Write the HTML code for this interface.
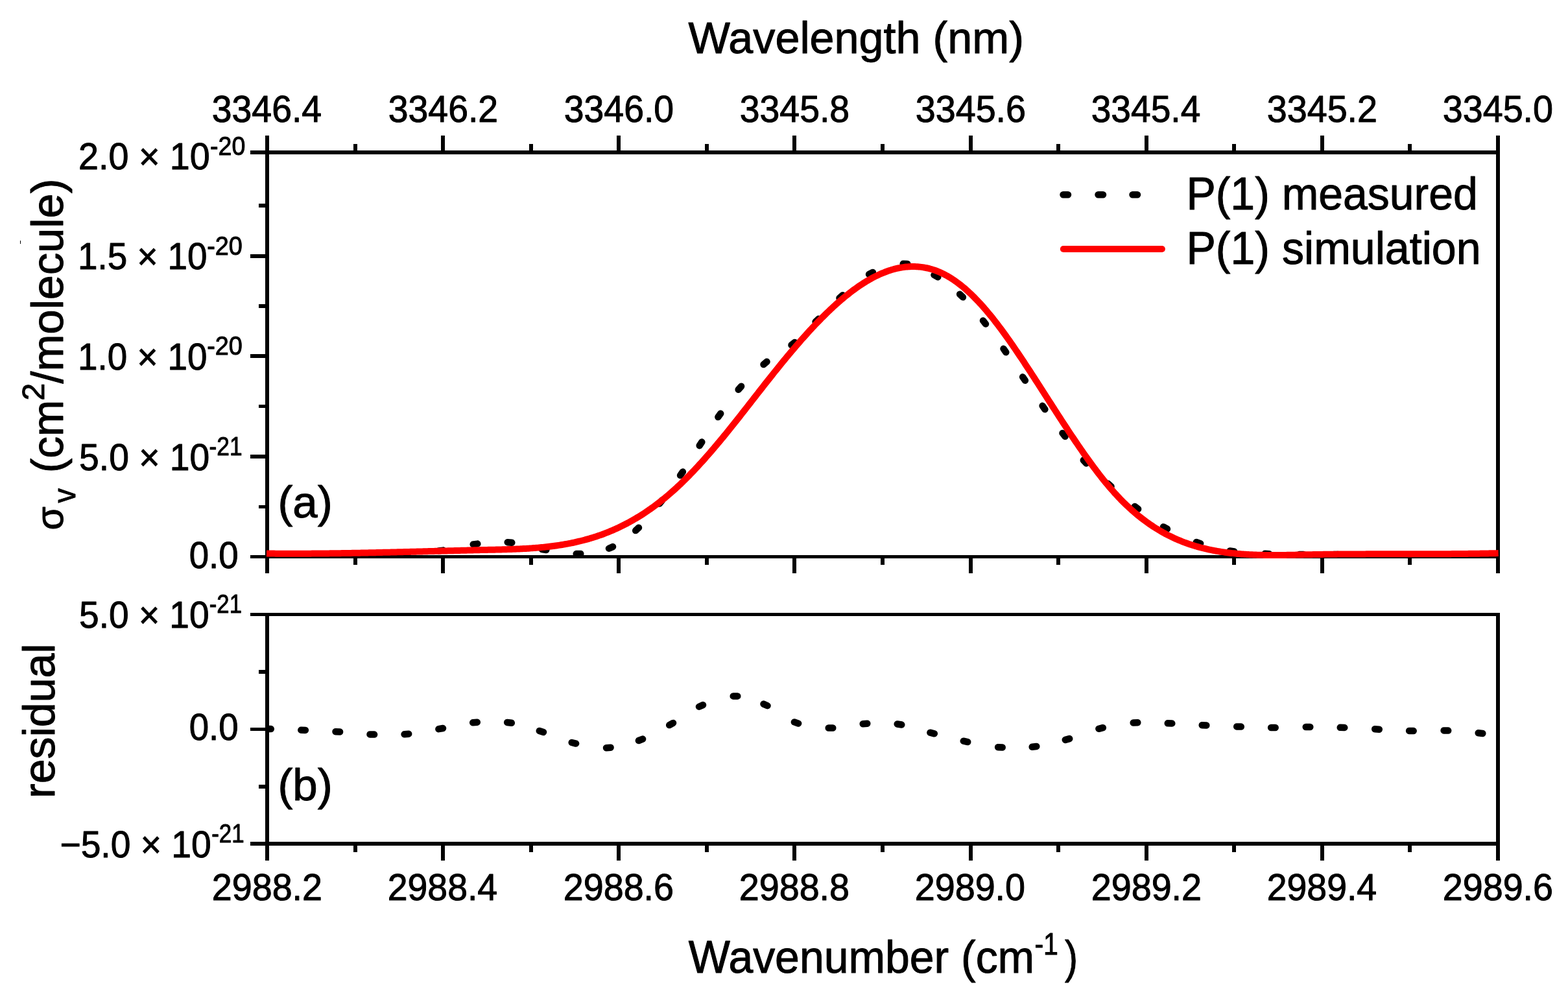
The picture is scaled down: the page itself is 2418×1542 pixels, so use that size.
<!DOCTYPE html>
<html><head><meta charset="utf-8"><title>Cross section P(1)</title>
<style>
html,body{margin:0;padding:0;background:#fff;width:2418px;height:1542px;overflow:hidden;}
svg{display:block;}
text{font-family:'Liberation Sans',Arial,Helvetica,sans-serif;}
</style></head>
<body>
<svg width="2418" height="1542" viewBox="0 0 2418 1542">
<rect width="2418" height="1542" fill="#fff"/>
<g fill="#000" shape-rendering="crispEdges">
<rect x="386.00" y="232.00" width="1927.00" height="6.00"/><rect x="386.00" y="856.00" width="1927.00" height="5.00"/><rect x="409.00" y="209.00" width="6.00" height="675.00"/><rect x="2307.00" y="209.00" width="6.00" height="675.00"/><rect x="680.14" y="209.00" width="6.00" height="23.00"/><rect x="680.14" y="861.00" width="6.00" height="23.00"/><rect x="951.29" y="209.00" width="6.00" height="23.00"/><rect x="951.29" y="861.00" width="6.00" height="23.00"/><rect x="1222.43" y="209.00" width="6.00" height="23.00"/><rect x="1222.43" y="861.00" width="6.00" height="23.00"/><rect x="1493.57" y="209.00" width="6.00" height="23.00"/><rect x="1493.57" y="861.00" width="6.00" height="23.00"/><rect x="1764.71" y="209.00" width="6.00" height="23.00"/><rect x="1764.71" y="861.00" width="6.00" height="23.00"/><rect x="2035.86" y="209.00" width="6.00" height="23.00"/><rect x="2035.86" y="861.00" width="6.00" height="23.00"/><rect x="544.57" y="222.00" width="6.00" height="10.00"/><rect x="544.57" y="861.00" width="6.00" height="10.00"/><rect x="815.71" y="222.00" width="6.00" height="10.00"/><rect x="815.71" y="861.00" width="6.00" height="10.00"/><rect x="1086.86" y="222.00" width="6.00" height="10.00"/><rect x="1086.86" y="861.00" width="6.00" height="10.00"/><rect x="1358.00" y="222.00" width="6.00" height="10.00"/><rect x="1358.00" y="861.00" width="6.00" height="10.00"/><rect x="1629.14" y="222.00" width="6.00" height="10.00"/><rect x="1629.14" y="861.00" width="6.00" height="10.00"/><rect x="1900.29" y="222.00" width="6.00" height="10.00"/><rect x="1900.29" y="861.00" width="6.00" height="10.00"/><rect x="2171.43" y="222.00" width="6.00" height="10.00"/><rect x="2171.43" y="861.00" width="6.00" height="10.00"/><rect x="386.00" y="392.00" width="23.00" height="6.00"/><rect x="386.00" y="546.00" width="23.00" height="6.00"/><rect x="386.00" y="701.00" width="23.00" height="6.00"/><rect x="399.00" y="314.25" width="10.00" height="5.50"/><rect x="399.00" y="469.25" width="10.00" height="5.50"/><rect x="399.00" y="623.75" width="10.00" height="5.50"/><rect x="399.00" y="778.65" width="10.00" height="5.50"/><rect x="386.00" y="945.00" width="1927.00" height="5.00"/><rect x="386.00" y="1298.00" width="1927.00" height="6.00"/><rect x="409.00" y="945.00" width="6.00" height="382.00"/><rect x="2307.00" y="945.00" width="6.00" height="382.00"/><rect x="680.14" y="1304.00" width="6.00" height="23.00"/><rect x="951.29" y="1304.00" width="6.00" height="23.00"/><rect x="1222.43" y="1304.00" width="6.00" height="23.00"/><rect x="1493.57" y="1304.00" width="6.00" height="23.00"/><rect x="1764.71" y="1304.00" width="6.00" height="23.00"/><rect x="2035.86" y="1304.00" width="6.00" height="23.00"/><rect x="544.57" y="1304.00" width="6.00" height="10.00"/><rect x="815.71" y="1304.00" width="6.00" height="10.00"/><rect x="1086.86" y="1304.00" width="6.00" height="10.00"/><rect x="1358.00" y="1304.00" width="6.00" height="10.00"/><rect x="1629.14" y="1304.00" width="6.00" height="10.00"/><rect x="1900.29" y="1304.00" width="6.00" height="10.00"/><rect x="2171.43" y="1304.00" width="6.00" height="10.00"/><rect x="386.00" y="1122.00" width="23.00" height="5.00"/><rect x="399.00" y="1033.25" width="10.00" height="5.50"/><rect x="399.00" y="1210.00" width="10.00" height="5.50"/>
</g>
<path d="M623.7,851.8L630.3,851.4M676.7,849.4L683.3,848.6M729.7,839.4L736.3,838.6M782.7,836.2L789.3,836.8M835.7,847.0L842.3,848.0M888.7,854.1L895.3,853.9M939.0,845.7L945.0,843.1M980.2,818.1L985.0,813.7M1016.9,776.6L1021.1,771.4M1049.1,733.0L1052.9,727.6M1078.7,687.2L1082.3,681.6M1107.4,643.1L1111.2,637.7M1138.7,600.8L1143.1,595.8M1177.5,562.0L1182.5,557.8M1220.5,532.1L1225.5,527.9M1257.6,496.3L1262.4,491.7M1294.5,459.7L1299.5,455.3M1340.1,423.0L1345.9,420.0M1392.7,406.7L1399.3,406.9M1440.5,424.0L1446.3,427.2M1480.1,453.7L1484.9,458.3M1516.0,494.4L1520.0,499.6M1547.5,537.8L1551.3,543.2M1577.1,581.3L1580.9,586.7M1607.6,625.8L1611.4,631.2M1638.5,667.9L1642.5,673.1M1670.8,709.6L1675.2,714.4M1708.5,745.8L1713.5,750.2M1749.9,781.0L1755.1,785.0M1794.1,812.4L1799.9,815.6M1844.9,835.9L1851.1,838.1M1896.7,849.5L1903.3,850.5M1950.7,853.8L1957.3,854.2M2003.7,855.0L2010.3,855.0M2056.7,855.0L2063.3,855.0M2109.7,855.5L2116.3,855.5" stroke="#000" stroke-width="10.5" stroke-linecap="round" fill="none"/>
<clipPath id="cr"><rect x="415" y="940" width="1895" height="360"/></clipPath>
<path clip-path="url(#cr)" d="M411.2,1123.9L417.8,1124.1M464.3,1125.7L470.9,1125.9M517.5,1128.2L524.1,1128.6M570.5,1132.4L577.1,1132.6M623.6,1132.3L630.2,1131.7M676.4,1124.2L683.0,1123.0M729.2,1114.3L735.8,1113.7M782.2,1114.0L788.8,1114.8M831.8,1127.0L838.0,1129.0M881.7,1145.0L888.1,1146.6M935.0,1153.2L941.6,1152.8M984.9,1142.0L991.1,1139.6M1032.2,1118.1L1038.0,1114.9M1078.0,1089.7L1084.0,1087.1M1130.7,1073.4L1137.3,1073.4M1177.5,1085.6L1183.5,1088.2M1224.9,1113.4L1231.1,1115.6M1277.7,1122.5L1284.3,1122.5M1330.7,1116.2L1337.3,1115.8M1383.7,1116.5L1390.3,1117.5M1434.4,1129.7L1440.8,1131.3M1485.8,1142.7L1492.2,1144.1M1539.1,1152.2L1545.7,1152.6M1591.7,1151.8L1598.3,1151.0M1642.8,1140.9L1649.2,1139.1M1694.4,1123.8L1700.8,1122.2M1747.7,1114.6L1754.3,1114.2M1800.7,1115.3L1807.3,1115.5M1853.7,1118.2L1860.3,1118.6M1907.2,1120.4L1913.8,1120.6M1960.1,1122.0L1966.7,1122.0M2013.7,1121.0L2020.3,1121.0M2066.7,1121.8L2073.3,1122.0M2120.2,1124.3L2126.8,1124.7M2173.1,1126.9L2179.7,1127.1M2226.6,1126.4L2233.2,1126.6M2279.7,1130.3L2286.3,1130.9" stroke="#000" stroke-width="10.5" stroke-linecap="round" fill="none"/>
<path d="M411.0,853.50 L413.0,853.52 L415.0,853.54 L417.0,853.56 L419.0,853.58 L421.0,853.60 L423.0,853.61 L425.0,853.63 L427.0,853.64 L429.0,853.65 L431.0,853.66 L433.0,853.67 L435.0,853.68 L437.0,853.69 L439.0,853.70 L441.0,853.70 L443.0,853.71 L445.0,853.71 L447.0,853.71 L449.0,853.71 L451.0,853.72 L453.0,853.72 L455.0,853.71 L457.0,853.71 L459.0,853.71 L461.0,853.71 L463.0,853.70 L465.0,853.69 L467.0,853.69 L469.0,853.68 L471.0,853.67 L473.0,853.66 L475.0,853.65 L477.0,853.64 L479.0,853.63 L481.0,853.62 L483.0,853.60 L485.0,853.59 L487.0,853.57 L489.0,853.56 L491.0,853.54 L493.0,853.52 L495.0,853.50 L497.0,853.48 L499.0,853.46 L501.0,853.44 L503.0,853.42 L505.0,853.40 L507.0,853.38 L509.0,853.35 L511.0,853.33 L513.0,853.30 L515.0,853.28 L517.0,853.25 L519.0,853.22 L521.0,853.19 L523.0,853.17 L525.0,853.14 L527.0,853.11 L529.0,853.08 L531.0,853.04 L533.0,853.01 L535.0,852.98 L537.0,852.95 L539.0,852.91 L541.0,852.88 L543.0,852.85 L545.0,852.81 L547.0,852.77 L549.0,852.74 L551.0,852.70 L553.0,852.66 L555.0,852.63 L557.0,852.59 L559.0,852.55 L561.0,852.51 L563.0,852.47 L565.0,852.43 L567.0,852.39 L569.0,852.35 L571.0,852.31 L573.0,852.26 L575.0,852.22 L577.0,852.18 L579.0,852.13 L581.0,852.09 L583.0,852.05 L585.0,852.00 L587.0,851.96 L589.0,851.91 L591.0,851.87 L593.0,851.82 L595.0,851.77 L597.0,851.73 L599.0,851.68 L601.0,851.63 L603.0,851.59 L605.0,851.54 L607.0,851.49 L609.0,851.44 L611.0,851.39 L613.0,851.34 L615.0,851.30 L617.0,851.25 L619.0,851.20 L621.0,851.15 L623.0,851.10 L625.0,851.05 L627.0,851.00 L629.0,850.95 L631.0,850.90 L633.0,850.85 L635.0,850.79 L637.0,850.74 L639.0,850.69 L641.0,850.64 L643.0,850.59 L645.0,850.54 L647.0,850.49 L649.0,850.43 L651.0,850.38 L653.0,850.33 L655.0,850.28 L657.0,850.23 L659.0,850.17 L661.0,850.12 L663.0,850.07 L665.0,850.02 L667.0,849.97 L669.0,849.91 L671.0,849.86 L673.0,849.81 L675.0,849.76 L677.0,849.71 L679.0,849.65 L681.0,849.60 L683.0,849.55 L685.0,849.50 L687.0,849.45 L689.0,849.39 L691.0,849.34 L693.0,849.29 L695.0,849.24 L697.0,849.19 L699.0,849.14 L701.0,849.09 L703.0,849.04 L705.0,848.99 L707.0,848.94 L709.0,848.89 L711.0,848.84 L713.0,848.79 L715.0,848.74 L717.0,848.69 L719.0,848.64 L721.0,848.59 L723.0,848.54 L725.0,848.49 L727.0,848.44 L729.0,848.40 L731.0,848.35 L733.0,848.30 L735.0,848.25 L737.0,848.21 L739.0,848.16 L741.0,848.12 L743.0,848.07 L745.0,848.03 L747.0,847.98 L749.0,847.94 L751.0,847.89 L753.0,847.85 L755.0,847.80 L757.0,847.76 L759.0,847.72 L761.0,847.67 L763.0,847.63 L765.0,847.58 L767.0,847.53 L769.0,847.49 L771.0,847.44 L773.0,847.39 L775.0,847.33 L777.0,847.28 L779.0,847.22 L781.0,847.16 L783.0,847.10 L785.0,847.04 L787.0,846.97 L789.0,846.90 L791.0,846.83 L793.0,846.75 L795.0,846.67 L797.0,846.59 L799.0,846.50 L801.0,846.41 L803.0,846.32 L805.0,846.22 L807.0,846.11 L809.0,846.00 L811.0,845.89 L813.0,845.77 L815.0,845.65 L817.0,845.52 L819.0,845.38 L821.0,845.24 L823.0,845.09 L825.0,844.94 L827.0,844.78 L829.0,844.61 L831.0,844.44 L833.0,844.26 L835.0,844.07 L837.0,843.88 L839.0,843.68 L841.0,843.47 L843.0,843.25 L845.0,843.02 L847.0,842.79 L849.0,842.55 L851.0,842.30 L853.0,842.04 L855.0,841.77 L857.0,841.49 L859.0,841.20 L861.0,840.91 L863.0,840.60 L865.0,840.29 L867.0,839.96 L869.0,839.63 L871.0,839.28 L873.0,838.92 L875.0,838.56 L877.0,838.18 L879.0,837.79 L881.0,837.39 L883.0,836.98 L885.0,836.55 L887.0,836.12 L889.0,835.67 L891.0,835.21 L893.0,834.74 L895.0,834.25 L897.0,833.76 L899.0,833.25 L901.0,832.72 L903.0,832.19 L905.0,831.64 L907.0,831.08 L909.0,830.50 L911.0,829.91 L913.0,829.30 L915.0,828.68 L917.0,828.05 L919.0,827.40 L921.0,826.74 L923.0,826.06 L925.0,825.36 L927.0,824.66 L929.0,823.93 L931.0,823.19 L933.0,822.43 L935.0,821.66 L937.0,820.87 L939.0,820.07 L941.0,819.24 L943.0,818.41 L945.0,817.55 L947.0,816.68 L949.0,815.79 L951.0,814.88 L953.0,813.96 L955.0,813.01 L957.0,812.05 L959.0,811.08 L961.0,810.08 L963.0,809.07 L965.0,808.03 L967.0,806.98 L969.0,805.92 L971.0,804.83 L973.0,803.72 L975.0,802.60 L977.0,801.46 L979.0,800.29 L981.0,799.11 L983.0,797.91 L985.0,796.69 L987.0,795.45 L989.0,794.20 L991.0,792.92 L993.0,791.62 L995.0,790.30 L997.0,788.96 L999.0,787.61 L1001.0,786.23 L1003.0,784.83 L1005.0,783.41 L1007.0,781.97 L1009.0,780.51 L1011.0,779.03 L1013.0,777.52 L1015.0,776.00 L1017.0,774.45 L1019.0,772.89 L1021.0,771.30 L1023.0,769.69 L1025.0,768.06 L1027.0,766.41 L1029.0,764.73 L1031.0,763.03 L1033.0,761.31 L1035.0,759.57 L1037.0,757.81 L1039.0,756.02 L1041.0,754.21 L1043.0,752.38 L1045.0,750.53 L1047.0,748.65 L1049.0,746.75 L1051.0,744.84 L1053.0,742.90 L1055.0,740.94 L1057.0,738.96 L1059.0,736.96 L1061.0,734.94 L1063.0,732.90 L1065.0,730.85 L1067.0,728.77 L1069.0,726.68 L1071.0,724.57 L1073.0,722.44 L1075.0,720.29 L1077.0,718.13 L1079.0,715.95 L1081.0,713.75 L1083.0,711.54 L1085.0,709.31 L1087.0,707.06 L1089.0,704.80 L1091.0,702.53 L1093.0,700.24 L1095.0,697.94 L1097.0,695.62 L1099.0,693.29 L1101.0,690.95 L1103.0,688.59 L1105.0,686.22 L1107.0,683.84 L1109.0,681.45 L1111.0,679.04 L1113.0,676.63 L1115.0,674.20 L1117.0,671.76 L1119.0,669.31 L1121.0,666.86 L1123.0,664.39 L1125.0,661.91 L1127.0,659.42 L1129.0,656.93 L1131.0,654.42 L1133.0,651.91 L1135.0,649.39 L1137.0,646.87 L1139.0,644.34 L1141.0,641.80 L1143.0,639.26 L1145.0,636.71 L1147.0,634.16 L1149.0,631.60 L1151.0,629.04 L1153.0,626.48 L1155.0,623.92 L1157.0,621.36 L1159.0,618.79 L1161.0,616.23 L1163.0,613.66 L1165.0,611.09 L1167.0,608.53 L1169.0,605.97 L1171.0,603.40 L1173.0,600.84 L1175.0,598.29 L1177.0,595.74 L1179.0,593.19 L1181.0,590.64 L1183.0,588.10 L1185.0,585.57 L1187.0,583.04 L1189.0,580.52 L1191.0,578.01 L1193.0,575.50 L1195.0,573.00 L1197.0,570.51 L1199.0,568.03 L1201.0,565.55 L1203.0,563.09 L1205.0,560.63 L1207.0,558.18 L1209.0,555.75 L1211.0,553.32 L1213.0,550.90 L1215.0,548.50 L1217.0,546.10 L1219.0,543.72 L1221.0,541.35 L1223.0,538.98 L1225.0,536.64 L1227.0,534.30 L1229.0,531.98 L1231.0,529.66 L1233.0,527.37 L1235.0,525.08 L1237.0,522.81 L1239.0,520.56 L1241.0,518.31 L1243.0,516.09 L1245.0,513.87 L1247.0,511.68 L1249.0,509.49 L1251.0,507.33 L1253.0,505.18 L1255.0,503.05 L1257.0,500.93 L1259.0,498.83 L1261.0,496.75 L1263.0,494.68 L1265.0,492.64 L1267.0,490.61 L1269.0,488.60 L1271.0,486.61 L1273.0,484.63 L1275.0,482.68 L1277.0,480.75 L1279.0,478.83 L1281.0,476.94 L1283.0,475.07 L1285.0,473.21 L1287.0,471.38 L1289.0,469.57 L1291.0,467.78 L1293.0,466.02 L1295.0,464.27 L1297.0,462.55 L1299.0,460.85 L1301.0,459.18 L1303.0,457.52 L1305.0,455.90 L1307.0,454.29 L1309.0,452.71 L1311.0,451.15 L1313.0,449.62 L1315.0,448.12 L1317.0,446.64 L1319.0,445.18 L1321.0,443.75 L1323.0,442.35 L1325.0,440.98 L1327.0,439.63 L1329.0,438.30 L1331.0,437.01 L1333.0,435.74 L1335.0,434.50 L1337.0,433.29 L1339.0,432.11 L1341.0,430.96 L1343.0,429.84 L1345.0,428.74 L1347.0,427.68 L1349.0,426.64 L1351.0,425.64 L1353.0,424.66 L1355.0,423.72 L1357.0,422.81 L1359.0,421.93 L1361.0,421.08 L1363.0,420.27 L1365.0,419.48 L1367.0,418.73 L1369.0,418.02 L1371.0,417.33 L1373.0,416.68 L1375.0,416.06 L1377.0,415.48 L1379.0,414.93 L1381.0,414.42 L1383.0,413.94 L1385.0,413.49 L1387.0,413.09 L1389.0,412.71 L1391.0,412.38 L1393.0,412.08 L1395.0,411.82 L1397.0,411.59 L1399.0,411.40 L1401.0,411.25 L1403.0,411.14 L1405.0,411.06 L1407.0,411.03 L1409.0,411.03 L1411.0,411.07 L1413.0,411.15 L1415.0,411.27 L1417.0,411.43 L1419.0,411.63 L1421.0,411.87 L1423.0,412.16 L1425.0,412.48 L1427.0,412.84 L1429.0,413.25 L1431.0,413.70 L1433.0,414.19 L1435.0,414.72 L1437.0,415.30 L1439.0,415.92 L1441.0,416.58 L1443.0,417.29 L1445.0,418.04 L1447.0,418.83 L1449.0,419.67 L1451.0,420.55 L1453.0,421.48 L1455.0,422.46 L1457.0,423.48 L1459.0,424.55 L1461.0,425.66 L1463.0,426.82 L1465.0,428.02 L1467.0,429.27 L1469.0,430.57 L1471.0,431.91 L1473.0,433.29 L1475.0,434.72 L1477.0,436.19 L1479.0,437.70 L1481.0,439.26 L1483.0,440.86 L1485.0,442.50 L1487.0,444.19 L1489.0,445.91 L1491.0,447.68 L1493.0,449.48 L1495.0,451.33 L1497.0,453.21 L1499.0,455.14 L1501.0,457.10 L1503.0,459.10 L1505.0,461.15 L1507.0,463.22 L1509.0,465.34 L1511.0,467.49 L1513.0,469.68 L1515.0,471.91 L1517.0,474.17 L1519.0,476.47 L1521.0,478.80 L1523.0,481.16 L1525.0,483.57 L1527.0,486.00 L1529.0,488.47 L1531.0,490.97 L1533.0,493.50 L1535.0,496.06 L1537.0,498.64 L1539.0,501.26 L1541.0,503.91 L1543.0,506.58 L1545.0,509.28 L1547.0,512.00 L1549.0,514.75 L1551.0,517.52 L1553.0,520.32 L1555.0,523.13 L1557.0,525.97 L1559.0,528.83 L1561.0,531.71 L1563.0,534.60 L1565.0,537.52 L1567.0,540.45 L1569.0,543.40 L1571.0,546.36 L1573.0,549.34 L1575.0,552.33 L1577.0,555.34 L1579.0,558.35 L1581.0,561.38 L1583.0,564.42 L1585.0,567.47 L1587.0,570.53 L1589.0,573.59 L1591.0,576.67 L1593.0,579.75 L1595.0,582.84 L1597.0,585.94 L1599.0,589.04 L1601.0,592.14 L1603.0,595.25 L1605.0,598.37 L1607.0,601.48 L1609.0,604.60 L1611.0,607.72 L1613.0,610.84 L1615.0,613.96 L1617.0,617.08 L1619.0,620.20 L1621.0,623.32 L1623.0,626.43 L1625.0,629.55 L1627.0,632.65 L1629.0,635.76 L1631.0,638.86 L1633.0,641.95 L1635.0,645.04 L1637.0,648.12 L1639.0,651.19 L1641.0,654.25 L1643.0,657.31 L1645.0,660.35 L1647.0,663.39 L1649.0,666.41 L1651.0,669.42 L1653.0,672.43 L1655.0,675.41 L1657.0,678.39 L1659.0,681.35 L1661.0,684.29 L1663.0,687.22 L1665.0,690.13 L1667.0,693.03 L1669.0,695.91 L1671.0,698.77 L1673.0,701.61 L1675.0,704.43 L1677.0,707.24 L1679.0,710.02 L1681.0,712.78 L1683.0,715.52 L1685.0,718.23 L1687.0,720.92 L1689.0,723.59 L1691.0,726.24 L1693.0,728.85 L1695.0,731.45 L1697.0,734.01 L1699.0,736.55 L1701.0,739.06 L1703.0,741.54 L1705.0,743.99 L1707.0,746.42 L1709.0,748.81 L1711.0,751.17 L1713.0,753.50 L1715.0,755.79 L1717.0,758.06 L1719.0,760.29 L1721.0,762.48 L1723.0,764.64 L1725.0,766.77 L1727.0,768.86 L1729.0,770.92 L1731.0,772.95 L1733.0,774.94 L1735.0,776.90 L1737.0,778.83 L1739.0,780.72 L1741.0,782.59 L1743.0,784.42 L1745.0,786.22 L1747.0,787.99 L1749.0,789.73 L1751.0,791.44 L1753.0,793.12 L1755.0,794.77 L1757.0,796.39 L1759.0,797.98 L1761.0,799.54 L1763.0,801.07 L1765.0,802.57 L1767.0,804.05 L1769.0,805.50 L1771.0,806.92 L1773.0,808.31 L1775.0,809.68 L1777.0,811.01 L1779.0,812.33 L1781.0,813.61 L1783.0,814.87 L1785.0,816.11 L1787.0,817.32 L1789.0,818.50 L1791.0,819.66 L1793.0,820.79 L1795.0,821.90 L1797.0,822.99 L1799.0,824.05 L1801.0,825.09 L1803.0,826.10 L1805.0,827.09 L1807.0,828.06 L1809.0,829.01 L1811.0,829.93 L1813.0,830.84 L1815.0,831.72 L1817.0,832.58 L1819.0,833.42 L1821.0,834.24 L1823.0,835.03 L1825.0,835.81 L1827.0,836.57 L1829.0,837.31 L1831.0,838.03 L1833.0,838.72 L1835.0,839.41 L1837.0,840.07 L1839.0,840.71 L1841.0,841.34 L1843.0,841.95 L1845.0,842.54 L1847.0,843.11 L1849.0,843.67 L1851.0,844.21 L1853.0,844.73 L1855.0,845.24 L1857.0,845.73 L1859.0,846.21 L1861.0,846.67 L1863.0,847.12 L1865.0,847.55 L1867.0,847.97 L1869.0,848.37 L1871.0,848.76 L1873.0,849.14 L1875.0,849.50 L1877.0,849.85 L1879.0,850.19 L1881.0,850.51 L1883.0,850.82 L1885.0,851.12 L1887.0,851.41 L1889.0,851.69 L1891.0,851.96 L1893.0,852.21 L1895.0,852.46 L1897.0,852.69 L1899.0,852.92 L1901.0,853.14 L1903.0,853.34 L1905.0,853.54 L1907.0,853.73 L1909.0,853.91 L1911.0,854.08 L1913.0,854.24 L1915.0,854.39 L1917.0,854.54 L1919.0,854.67 L1921.0,854.80 L1923.0,854.92 L1925.0,855.04 L1927.0,855.14 L1929.0,855.24 L1931.0,855.34 L1933.0,855.42 L1935.0,855.50 L1937.0,855.57 L1939.0,855.64 L1941.0,855.70 L1943.0,855.76 L1945.0,855.81 L1947.0,855.85 L1949.0,855.89 L1951.0,855.92 L1953.0,855.95 L1955.0,855.97 L1957.0,855.99 L1959.0,856.00 L1961.0,856.01 L1963.0,856.02 L1965.0,856.02 L1967.0,856.02 L1969.0,856.01 L1971.0,856.00 L1973.0,855.99 L1975.0,855.97 L1977.0,855.95 L1979.0,855.93 L1981.0,855.91 L1983.0,855.88 L1985.0,855.85 L1987.0,855.82 L1989.0,855.79 L1991.0,855.76 L1993.0,855.72 L1995.0,855.68 L1997.0,855.65 L1999.0,855.61 L2001.0,855.57 L2003.0,855.53 L2005.0,855.49 L2007.0,855.45 L2009.0,855.41 L2011.0,855.37 L2013.0,855.33 L2015.0,855.29 L2017.0,855.25 L2019.0,855.21 L2021.0,855.17 L2023.0,855.13 L2025.0,855.10 L2027.0,855.06 L2029.0,855.03 L2031.0,855.00 L2033.0,854.97 L2035.0,854.94 L2037.0,854.91 L2039.0,854.88 L2041.0,854.85 L2043.0,854.83 L2045.0,854.80 L2047.0,854.78 L2049.0,854.75 L2051.0,854.73 L2053.0,854.71 L2055.0,854.69 L2057.0,854.67 L2059.0,854.65 L2061.0,854.63 L2063.0,854.61 L2065.0,854.59 L2067.0,854.57 L2069.0,854.56 L2071.0,854.54 L2073.0,854.53 L2075.0,854.52 L2077.0,854.50 L2079.0,854.49 L2081.0,854.48 L2083.0,854.47 L2085.0,854.45 L2087.0,854.44 L2089.0,854.44 L2091.0,854.43 L2093.0,854.42 L2095.0,854.41 L2097.0,854.40 L2099.0,854.39 L2101.0,854.39 L2103.0,854.38 L2105.0,854.38 L2107.0,854.37 L2109.0,854.37 L2111.0,854.36 L2113.0,854.36 L2115.0,854.35 L2117.0,854.35 L2119.0,854.35 L2121.0,854.34 L2123.0,854.34 L2125.0,854.34 L2127.0,854.34 L2129.0,854.33 L2131.0,854.33 L2133.0,854.33 L2135.0,854.33 L2137.0,854.33 L2139.0,854.33 L2141.0,854.33 L2143.0,854.32 L2145.0,854.32 L2147.0,854.32 L2149.0,854.32 L2151.0,854.32 L2153.0,854.32 L2155.0,854.32 L2157.0,854.32 L2159.0,854.32 L2161.0,854.32 L2163.0,854.32 L2165.0,854.32 L2167.0,854.32 L2169.0,854.32 L2171.0,854.32 L2173.0,854.32 L2175.0,854.32 L2177.0,854.31 L2179.0,854.31 L2181.0,854.31 L2183.0,854.31 L2185.0,854.31 L2187.0,854.31 L2189.0,854.30 L2191.0,854.30 L2193.0,854.30 L2195.0,854.30 L2197.0,854.29 L2199.0,854.29 L2201.0,854.28 L2203.0,854.28 L2205.0,854.27 L2207.0,854.27 L2209.0,854.26 L2211.0,854.26 L2213.0,854.25 L2215.0,854.24 L2217.0,854.24 L2219.0,854.23 L2221.0,854.22 L2223.0,854.21 L2225.0,854.20 L2227.0,854.19 L2229.0,854.18 L2231.0,854.17 L2233.0,854.16 L2235.0,854.15 L2237.0,854.13 L2239.0,854.12 L2241.0,854.10 L2243.0,854.09 L2245.0,854.07 L2247.0,854.06 L2249.0,854.04 L2251.0,854.02 L2253.0,854.00 L2255.0,853.98 L2257.0,853.96 L2259.0,853.94 L2261.0,853.92 L2263.0,853.90 L2265.0,853.87 L2267.0,853.85 L2269.0,853.82 L2271.0,853.80 L2273.0,853.77 L2275.0,853.74 L2277.0,853.71 L2279.0,853.68 L2281.0,853.65 L2283.0,853.62 L2285.0,853.59 L2287.0,853.55 L2289.0,853.52 L2291.0,853.48 L2293.0,853.45 L2295.0,853.41 L2297.0,853.37 L2299.0,853.33 L2301.0,853.29 L2303.0,853.24 L2305.0,853.20 L2307.0,853.15 L2309.0,853.11 L2310.7,853.07" stroke="#ff0000" stroke-width="10" stroke-linejoin="round" fill="none"/>
<path d="M1639.5,300.3L1647,300.3M1693.5,300.3L1701,300.3M1746.5,300.3L1754,300.3" stroke="#000" stroke-width="10.5" stroke-linecap="round" fill="none"/><path d="M1639.8,384L1791.9,384" stroke="#ff0000" stroke-width="10" stroke-linecap="round" fill="none"/>
<g fill="#000" stroke="#000" stroke-width="1.0" stroke-linejoin="round">
<text x="1061.40" y="82.30" font-size="69.30" textLength="517.49" lengthAdjust="spacingAndGlyphs">Wavelength (nm)</text>
<text x="326.70" y="187.60" font-size="57.60" textLength="169.50" lengthAdjust="spacingAndGlyphs">3346.4</text>
<text x="598.70" y="187.60" font-size="57.60" textLength="169.50" lengthAdjust="spacingAndGlyphs">3346.2</text>
<text x="869.70" y="187.60" font-size="57.60" textLength="169.50" lengthAdjust="spacingAndGlyphs">3346.0</text>
<text x="1140.70" y="187.60" font-size="57.60" textLength="169.50" lengthAdjust="spacingAndGlyphs">3345.8</text>
<text x="1411.70" y="187.60" font-size="57.60" textLength="170.40" lengthAdjust="spacingAndGlyphs">3345.6</text>
<text x="1682.70" y="187.60" font-size="57.60" textLength="168.60" lengthAdjust="spacingAndGlyphs">3345.4</text>
<text x="1953.70" y="187.60" font-size="57.60" textLength="170.40" lengthAdjust="spacingAndGlyphs">3345.2</text>
<text x="2224.70" y="187.60" font-size="57.60" textLength="170.40" lengthAdjust="spacingAndGlyphs">3345.0</text>
<text x="326.70" y="1387.80" font-size="57.60" textLength="170.40" lengthAdjust="spacingAndGlyphs">2988.2</text>
<text x="597.70" y="1387.80" font-size="57.60" textLength="169.50" lengthAdjust="spacingAndGlyphs">2988.4</text>
<text x="868.70" y="1387.80" font-size="57.60" textLength="170.40" lengthAdjust="spacingAndGlyphs">2988.6</text>
<text x="1139.70" y="1387.80" font-size="57.60" textLength="170.40" lengthAdjust="spacingAndGlyphs">2988.8</text>
<text x="1410.70" y="1387.80" font-size="57.60" textLength="170.40" lengthAdjust="spacingAndGlyphs">2989.0</text>
<text x="1682.70" y="1387.80" font-size="57.60" textLength="170.40" lengthAdjust="spacingAndGlyphs">2989.2</text>
<text x="1953.70" y="1387.80" font-size="57.60" textLength="169.50" lengthAdjust="spacingAndGlyphs">2989.4</text>
<text x="2224.70" y="1387.80" font-size="57.60" textLength="170.40" lengthAdjust="spacingAndGlyphs">2989.6</text>
<text x="121.10" y="260.88" font-size="57.00" textLength="202.66" lengthAdjust="spacingAndGlyphs">2.0 × 10</text>
<text x="324.00" y="238.60" font-size="41.30" textLength="54.29" lengthAdjust="spacingAndGlyphs">-20</text>
<text x="120.10" y="415.00" font-size="57.00" textLength="199.42" lengthAdjust="spacingAndGlyphs">1.5 × 10</text>
<text x="319.20" y="393.05" font-size="41.30" textLength="54.65" lengthAdjust="spacingAndGlyphs">-20</text>
<text x="120.10" y="570.15" font-size="57.00" textLength="199.42" lengthAdjust="spacingAndGlyphs">1.0 × 10</text>
<text x="319.20" y="547.20" font-size="41.30" textLength="54.65" lengthAdjust="spacingAndGlyphs">-20</text>
<text x="122.10" y="725.10" font-size="57.00" textLength="201.22" lengthAdjust="spacingAndGlyphs">5.0 × 10</text>
<text x="322.60" y="701.90" font-size="41.30" textLength="51.05" lengthAdjust="spacingAndGlyphs">-21</text>
<text x="291.70" y="875.75" font-size="57.00" textLength="75.92" lengthAdjust="spacingAndGlyphs">0.0</text>
<text x="122.10" y="967.50" font-size="57.00" textLength="200.50" lengthAdjust="spacingAndGlyphs">5.0 × 10</text>
<text x="322.80" y="945.30" font-size="41.30" textLength="50.15" lengthAdjust="spacingAndGlyphs">-21</text>
<text x="291.70" y="1141.08" font-size="57.00" textLength="75.92" lengthAdjust="spacingAndGlyphs">0.0</text>
<text x="92.40" y="1321.90" font-size="57.00" textLength="233.33" lengthAdjust="spacingAndGlyphs">−5.0 × 10</text>
<text x="326.20" y="1299.30" font-size="41.30" textLength="50.51" lengthAdjust="spacingAndGlyphs">-21</text>
<text x="1061.80" y="1500.00" font-size="69.50" textLength="533.41" lengthAdjust="spacingAndGlyphs">Wavenumber (cm</text>
<text x="1595.40" y="1472.10" font-size="49.00" textLength="36.56" lengthAdjust="spacingAndGlyphs">-1</text>
<text x="1642.00" y="1500.00" font-size="69.50" textLength="20.10" lengthAdjust="spacingAndGlyphs">)</text>
<text transform="translate(96.50,817.60) rotate(-90)" font-size="59.28" textLength="36.31" lengthAdjust="spacingAndGlyphs">σ</text>
<text transform="translate(116.30,775.40) rotate(-90)" font-size="48.00" textLength="22.38" lengthAdjust="spacingAndGlyphs">v</text>
<text transform="translate(97.20,729.20) rotate(-90)" font-size="69.00" textLength="112.45" lengthAdjust="spacingAndGlyphs">(cm</text>
<text transform="translate(68.40,617.80) rotate(-90)" font-size="48.00" textLength="27.06" lengthAdjust="spacingAndGlyphs">2</text>
<text transform="translate(97.20,591.60) rotate(-90)" font-size="69.00" textLength="316.14" lengthAdjust="spacingAndGlyphs">/molecule)</text>
<text transform="translate(84.00,1231.00) rotate(-90)" font-size="68.50" textLength="238.63" lengthAdjust="spacingAndGlyphs">residual</text>
<text x="428.40" y="798.10" font-size="69.30" textLength="84.34" lengthAdjust="spacingAndGlyphs">(a)</text>
<text x="428.40" y="1234.00" font-size="69.30" textLength="84.34" lengthAdjust="spacingAndGlyphs">(b)</text>
<text x="1829.40" y="322.90" font-size="69.50" textLength="449.41" lengthAdjust="spacingAndGlyphs">P(1) measured</text>
<text x="1829.40" y="407.20" font-size="69.50" textLength="454.14" lengthAdjust="spacingAndGlyphs">P(1) simulation</text>
</g>
<rect x="31" y="371" width="1" height="5" fill="#000"/>
</svg>
</body></html>
